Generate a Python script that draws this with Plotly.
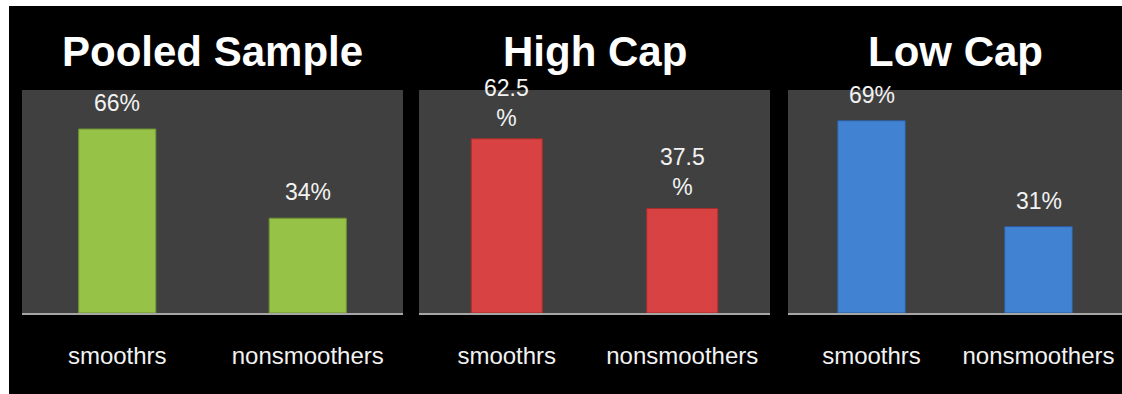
import plotly.graph_objects as go

# ---- data ----
categories = ["smoothrs", "nonsmoothers"]
panel_titles = ["Pooled Sample", "High Cap", "Low Cap"]
pooled_values = [66, 34]
highcap_values = [62.5, 37.5]
lowcap_values = [69, 31]
pooled_labels = ["66%", "34%"]
highcap_labels = ["62.5<br>%", "37.5<br>%"]
lowcap_labels = ["69%", "31%"]

series = [pooled_values, highcap_values, lowcap_values]
labels = [pooled_labels, highcap_labels, lowcap_labels]
colors = ["#96c247", "#d94242", "#4282d2"]
edge_colors = ["#6f9232", "#a52e2e", "#2c5c9a"]

W, H = 1122, 394
# pixel domains of the three panels
x_px = [(22, 403), (419, 770), (788, 1122)]
y_top, y_bot = 90, 313
ydom = [(H - y_bot) / H, (H - y_top) / H]

fig = go.Figure()
font_main = "Liberation Sans, Arial, sans-serif"

for i in range(3):
    ax = "" if i == 0 else str(i + 1)
    fig.add_trace(go.Bar(
        x=categories, y=series[i], width=0.405,
        marker=dict(color=colors[i], line=dict(color=edge_colors[i], width=1)),
        xaxis="x" + ax, yaxis="y" + ax, showlegend=False, hoverinfo="skip",
    ))
    fig.layout["xaxis" + ax] = dict(
        domain=[x_px[i][0] / W, x_px[i][1] / W], anchor="y" + ax,
        showgrid=False, zeroline=False, showline=True, linecolor="#a6a6a6",
        linewidth=2, ticks="", ticklabelstandoff=20,
        tickfont=dict(family=font_main, size=24, color="#f2f2f2"),
        fixedrange=True,
    )
    fig.layout["yaxis" + ax] = dict(
        domain=ydom, anchor="x" + ax, range=[0, 80],
        showgrid=False, zeroline=False, showline=False, showticklabels=False,
        fixedrange=True,
    )
    for c, v, t in zip(categories, series[i], labels[i]):
        two = "<br>" in t
        fig.add_annotation(
            x=c, y=v, xref="x" + ax, yref="y" + ax, text=t, showarrow=False,
            yanchor="middle", yshift=36 if two else 26,
            font=dict(family=font_main, size=23, color="#f2f2f2"),
        )
    fig.add_annotation(
        x=(x_px[i][0] + x_px[i][1]) / 2 / W, y=(H - 51) / H, xref="paper", yref="paper",
        xanchor="center", yanchor="middle",
        text="<b>%s</b>" % panel_titles[i], showarrow=False,
        font=dict(family=font_main, size=42, color="#ffffff"),
    )

# white border strips (top and left)
fig.add_shape(type="rect", xref="paper", yref="paper", x0=0, x1=1, y0=(H - 6) / H, y1=1,
              fillcolor="#ffffff", line=dict(width=0), layer="below")
fig.add_shape(type="rect", xref="paper", yref="paper", x0=0, x1=9 / W, y0=0, y1=1,
              fillcolor="#ffffff", line=dict(width=0), layer="below")

fig.update_layout(
    width=W, height=H, margin=dict(l=0, r=0, t=0, b=0),
    paper_bgcolor="#000000", plot_bgcolor="#404040",
    bargap=0.595,
)

fig.write_html("out.html")
